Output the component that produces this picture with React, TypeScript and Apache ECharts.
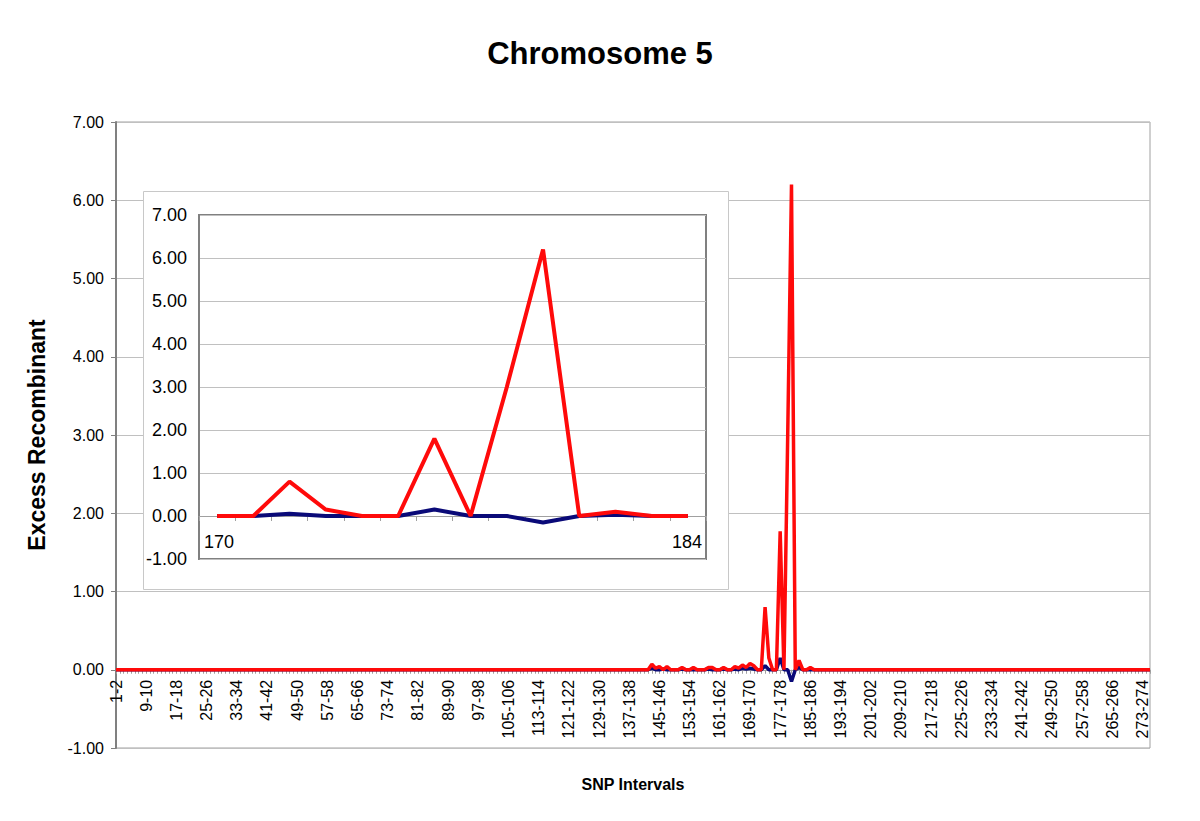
import React, { useEffect, useRef } from "react";
import * as echarts from "echarts";

// ---- DATA ----
const categoryCount = 275;
const categories: string[] = Array.from({ length: categoryCount }, (_, i) => `${i + 1}-${i + 2}`);

// values are zero outside the segment starting at this category index
const segmentStart = 140;
const redSegment = [
  0, 0, 0.07, 0.02, 0.04, 0, 0.04, 0, 0, 0,
  0.03, 0, 0, 0.03, 0, 0, 0, 0.03, 0.03, 0,
  0, 0.03, 0, 0, 0.04, 0.02, 0.06, 0.03, 0.08, 0.05,
  0, 0, 0.8, 0.15, 0, 0, 1.77, 0, 3.0, 6.2,
  0, 0.12, 0, 0, 0.03, 0, 0,
];
const blueSegment = [
  0, 0, 0.02, 0, 0, 0.01, 0, 0, 0, 0,
  0.01, 0, 0, 0, 0, 0, 0, 0.01, 0, 0,
  0, 0.01, 0, 0, 0.01, 0, 0.02, 0.01, 0.02, 0.01,
  0, 0, 0.05, 0, 0, 0, 0.15, 0, 0, -0.15,
  0, 0.03, 0, 0, 0, 0, 0,
];

const insetCategories = ["170", "171", "172", "173", "174", "175", "176", "177", "178", "179", "180", "181", "182", "183"];
const insetRed = [0, 0, 0.8, 0.15, 0, 0, 1.8, 0, 3.0, 6.2, 0, 0.1, 0, 0];
const insetBlue = [0, 0, 0.05, 0, 0, 0, 0.15, 0, 0, -0.15, 0, 0.03, 0, 0];
const insetEndLabels = ["170", "184"];

const yTicks = { min: -1, max: 7, interval: 1 };

function buildSeries(segment: number[]): number[] {
  const out: number[] = new Array(categoryCount).fill(0);
  segment.forEach((v, i) => {
    out[segmentStart + i] = v;
  });
  return out;
}

const FONT = '"Liberation Sans", Arial, Helvetica, sans-serif';
const RED = "#ff0a0a";
const BLUE = "#0a0a78";

// layout
const MAIN = { left: 116, right: 1150, top: 122, bottom: 748 };
const INSET = { left: 199, right: 706, top: 215, bottom: 559 };
const zeroOffset = (g: { top: number; bottom: number }) =>
  -((g.bottom - g.top) * (0 - yTicks.min)) / (yTicks.max - yTicks.min);

export default function App() {
  const ref = useRef<HTMLDivElement>(null);

  useEffect(() => {
    if (!ref.current) return;
    const chart = echarts.init(ref.current, undefined, { renderer: "svg" });
    const red = buildSeries(redSegment);
    const blue = buildSeries(blueSegment);

    chart.setOption({
      animation: false,
      backgroundColor: "#ffffff",
      textStyle: { fontFamily: FONT },
      title: {
        text: "Chromosome 5",
        left: "center",
        top: 33,
        textStyle: { fontFamily: FONT, fontSize: 31, fontWeight: "bold", color: "#000" },
      },
      grid: [
        {
          left: MAIN.left,
          right: 1200 - MAIN.right,
          top: MAIN.top,
          bottom: 821 - MAIN.bottom,
          outerBoundsMode: "none",
          containLabel: false,
          show: true,
          borderColor: "#a0a0a0",
          borderWidth: 1,
          backgroundColor: "transparent",
        },
        {
          left: INSET.left,
          right: 1200 - INSET.right,
          top: INSET.top,
          bottom: 821 - INSET.bottom,
          outerBoundsMode: "none",
          containLabel: false,
          show: true,
          borderColor: "#808080",
          borderWidth: 2,
          backgroundColor: "#ffffff",
          z: 6,
        },
      ],
      graphic: [
        {
          type: "rect",
          z: 5,
          shape: { x: 143.5, y: 191.5, width: 585, height: 398 },
          style: { fill: "#ffffff", stroke: "#c8c8c8", lineWidth: 1 },
        },
        {
          type: "text",
          z: 20,
          x: 204,
          y: 542,
          style: {
            text: insetEndLabels[0],
            fontFamily: FONT,
            fontSize: 18,
            fill: "#000",
            textVerticalAlign: "middle",
            textAlign: "left",
          },
        },
        {
          type: "text",
          z: 20,
          x: 702,
          y: 542,
          style: {
            text: insetEndLabels[1],
            fontFamily: FONT,
            fontSize: 18,
            fill: "#000",
            textVerticalAlign: "middle",
            textAlign: "right",
          },
        },
      ],
      xAxis: [
        {
          type: "category",
          gridIndex: 0,
          data: categories,
          boundaryGap: false,
          position: "bottom",
          offset: zeroOffset(MAIN),
          name: "SNP Intervals",
          nameLocation: "middle",
          nameGap: 107,
          nameTextStyle: { fontFamily: FONT, fontSize: 16, fontWeight: "bold", color: "#000" },
          axisLine: { onZero: false, lineStyle: { color: "#a0a0a0", width: 1 } },
          axisTick: { show: true, interval: 0, length: 4, lineStyle: { color: "#a0a0a0" } },
          axisLabel: {
            interval: 7,
            rotate: 90,
            margin: 10,
            fontSize: 16,
            fontFamily: FONT,
            color: "#000",
          },
          splitLine: { show: false },
        },
        {
          type: "category",
          gridIndex: 1,
          data: insetCategories,
          boundaryGap: true,
          position: "bottom",
          offset: zeroOffset(INSET),
          z: 7,
          axisLine: { onZero: false, lineStyle: { color: "#a0a0a0", width: 1 } },
          axisTick: { show: true, length: 5, lineStyle: { color: "#a0a0a0" } },
          axisLabel: { show: false },
          splitLine: { show: false },
        },
      ],
      yAxis: [
        {
          type: "value",
          gridIndex: 0,
          min: yTicks.min,
          max: yTicks.max,
          interval: yTicks.interval,
          name: "Excess Recombinant",
          nameLocation: "middle",
          nameRotate: 90,
          nameGap: 68,
          nameTextStyle: { fontFamily: FONT, fontSize: 23, fontWeight: "bold", color: "#000" },
          axisLine: { show: true, onZero: false, lineStyle: { color: "#808080", width: 2 } },
          axisTick: { show: true, length: 5, lineStyle: { color: "#808080" } },
          axisLabel: {
            formatter: (v: number) => v.toFixed(2),
            fontSize: 16,
            fontFamily: FONT,
            color: "#000",
            margin: 12,
          },
          splitLine: { show: true, lineStyle: { color: "#c0c0c0", width: 1 } },
        },
        {
          type: "value",
          gridIndex: 1,
          min: yTicks.min,
          max: yTicks.max,
          interval: yTicks.interval,
          z: 7,
          axisLine: { show: true, onZero: false, lineStyle: { color: "#808080", width: 2 } },
          axisTick: { show: false },
          axisLabel: {
            formatter: (v: number) => v.toFixed(2),
            fontSize: 18,
            fontFamily: FONT,
            color: "#000",
            margin: 12,
          },
          splitLine: { show: true, lineStyle: { color: "#c0c0c0", width: 1 } },
        },
      ],
      series: [
        {
          type: "line",
          xAxisIndex: 0,
          yAxisIndex: 0,
          data: blue,
          showSymbol: false,
          lineStyle: { color: BLUE, width: 3.5 },
          z: 2,
        },
        {
          type: "line",
          xAxisIndex: 0,
          yAxisIndex: 0,
          data: red,
          showSymbol: false,
          lineStyle: { color: RED, width: 3.5 },
          z: 3,
        },
        {
          type: "line",
          xAxisIndex: 1,
          yAxisIndex: 1,
          data: insetBlue,
          showSymbol: false,
          lineStyle: { color: BLUE, width: 4 },
          z: 8,
        },
        {
          type: "line",
          xAxisIndex: 1,
          yAxisIndex: 1,
          data: insetRed,
          showSymbol: false,
          lineStyle: { color: RED, width: 4 },
          z: 9,
        },
      ],
    });

    return () => {
      chart.dispose();
    };
  }, []);

  return <div ref={ref} style={{ width: 1200, height: 821, margin: -8 }} />;
}
